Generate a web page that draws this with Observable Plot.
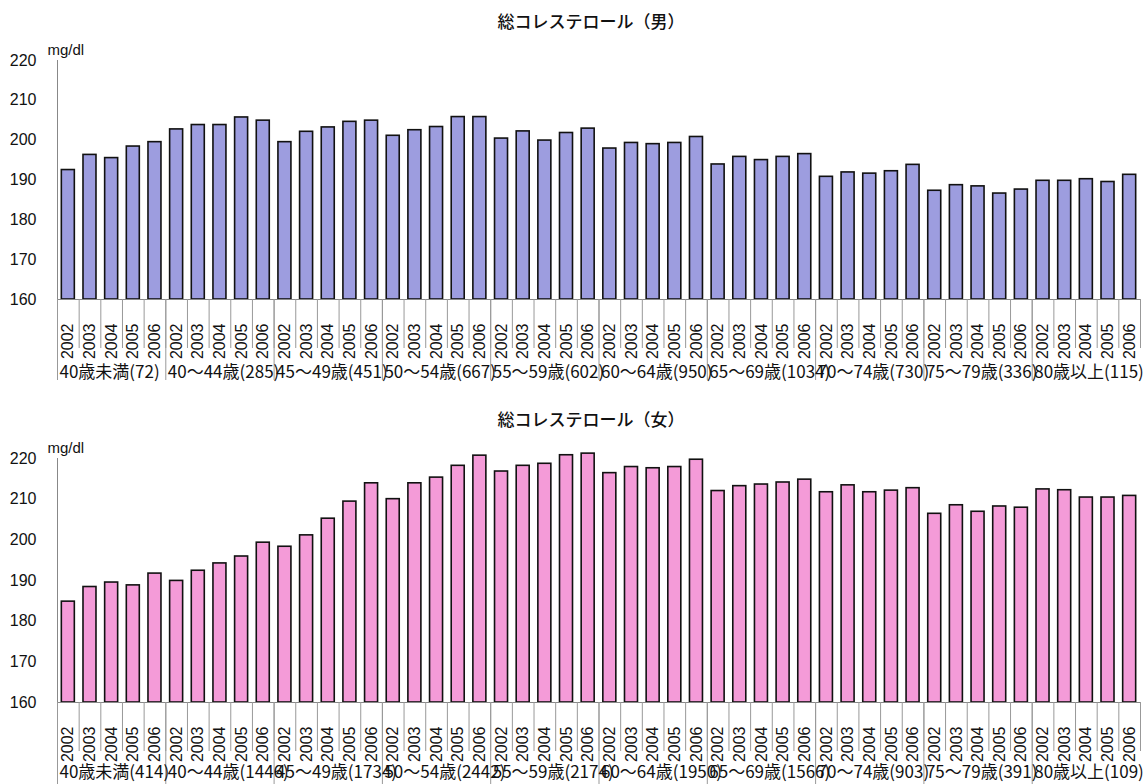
<!DOCTYPE html>
<html>
<head>
<meta charset="utf-8">
<script src="https://cdn.jsdelivr.net/npm/d3@7"></script>
<script src="https://cdn.jsdelivr.net/npm/@observablehq/plot@0.6"></script>
<style>
  body { margin: 0; background: #fff; font-family: "Noto Sans CJK JP", sans-serif; }
  #wrap { position: relative; width: 1147px; height: 784px; overflow: hidden; }
  .title { position: absolute; left: 0; width: 1182px; text-align: center; font-size: 17px; font-weight: 500; color: #111; line-height: 24px; }
  .chart { position: absolute; left: 0; }
</style>
</head>
<body>
<div id="wrap">
  <div class="chart" id="male" style="top:0"></div>
  <div class="title" style="top:9px">総コレステロール（男）</div>
  <div class="chart" id="female" style="top:400px"></div>
  <div class="title" style="top:407px">総コレステロール（女）</div>
</div>
<script>
// total cholesterol (mg/dl) by age group and survey year
const years = ["2002", "2003", "2004", "2005", "2006"];
const ageGroupsMale = ["40歳未満(72)", "40～44歳(285)", "45～49歳(451)", "50～54歳(667)", "55～59歳(602)",
  "60～64歳(950)", "65～69歳(1034)", "70～74歳(730)", "75～79歳(336)", "80歳以上(115)"];
const ageGroupsFemale = ["40歳未満(414)", "40～44歳(1446)", "45～49歳(1734)", "50～54歳(2442)", "55～59歳(2174)",
  "60～64歳(1950)", "65～69歳(1566)", "70～74歳(903)", "75～79歳(391)", "80歳以上(109)"];
const valuesMale = [
  192.5, 196.3, 195.5, 198.4, 199.5,
  202.7, 203.8, 203.8, 205.7, 204.9,
  199.5, 202.1, 203.2, 204.6, 204.9,
  201.1, 202.5, 203.3, 205.8, 205.8,
  200.4, 202.2, 199.9, 201.8, 202.9,
  197.9, 199.3, 199.0, 199.3, 200.8,
  193.9, 195.8, 195.0, 195.8, 196.5,
  190.8, 191.9, 191.6, 192.2, 193.8,
  187.3, 188.7, 188.4, 186.6, 187.6,
  189.8, 189.8, 190.2, 189.5, 191.3
];
const valuesFemale = [
  184.8, 188.4, 189.5, 188.8, 191.7,
  189.9, 192.4, 194.2, 195.9, 199.3,
  198.3, 201.1, 205.2, 209.4, 213.9,
  210.0, 213.9, 215.3, 218.2, 220.7,
  216.8, 218.2, 218.7, 220.8, 221.2,
  216.4, 217.9, 217.6, 217.9, 219.7,
  212.0, 213.2, 213.6, 214.1, 214.8,
  211.7, 213.4, 211.7, 212.1, 212.7,
  206.4, 208.5, 206.9, 208.2, 207.9,
  212.4, 212.2, 210.4, 210.4, 210.8
];
const yTicks = [160, 170, 180, 190, 200, 210, 220];
const unit = "mg/dl";

function drawChart(id, groups, values, fill, size) {
  const rows = [];
  groups.forEach((g, gi) => years.forEach((yr, yi) =>
    rows.push({ key: gi + "|" + yr, group: g, year: yr, value: values[gi * years.length + yi], first: yi === 0 })));
  const keys = rows.map((d) => d.key);
  const W = 1147, ML = 57, MR = 7;
  const step = (W - ML - MR) / keys.length;
  const firsts = rows.filter((d) => d.first);

  const plot = Plot.plot({
    width: W,
    height: size.height,
    marginLeft: ML,
    marginRight: MR,
    marginTop: size.top,
    marginBottom: size.bottom,
    style: { fontFamily: "'Liberation Sans', Arial, sans-serif", background: "transparent", color: "#111", overflow: "visible" },
    x: { type: "band", domain: keys, paddingInner: 0.4, paddingOuter: 0.2, axis: null },
    y: { domain: [160, 220], axis: null },
    marks: [
      Plot.axisY(yTicks, { tickSize: 0, tickPadding: 21, fontSize: 16, fill: "#111", label: null }),
      Plot.frame({ anchor: "left", stroke: "#888" }),
      Plot.barY(rows, { x: "key", y1: 160, y2: "value", fill, stroke: "#111", strokeWidth: 1.6 }),
      Plot.ruleY([160], { stroke: "#888" }),
      // separators between years and between age groups
      Plot.axisX(keys, { tickSize: 49, dx: -step / 2, tickFormat: () => "", stroke: "#999", label: null }),
      Plot.axisX([keys[keys.length - 1]], { tickSize: 49, dx: step / 2, tickFormat: () => "", stroke: "#999", label: null }),
      Plot.axisX(firsts.map((d) => d.key), { tickSize: size.groupTick, dx: -step / 2, tickFormat: () => "", stroke: "#999", label: null }),
      Plot.axisX(keys, {
        tickSize: 0, tickPadding: size.yearPad, tickRotate: -90, fontSize: 16, fill: "#111",
        tickFormat: (k) => k.split("|")[1], label: null
      }),
      Plot.text(firsts, {
        x: "key", text: "group", frameAnchor: "bottom", dx: -step / 2 + 2, dy: size.groupDy,
        textAnchor: "start", fontSize: 17, fontFamily: "Noto Sans CJK JP", fill: "#111"
      }),
      Plot.text([unit], { frameAnchor: "top-left", dx: -10, dy: -16, textAnchor: "start", fontSize: 15, fill: "#111" })
    ]
  });
  document.getElementById(id).appendChild(plot);
}

drawChart("male", ageGroupsMale, valuesMale, "#9d9ddf",
  { height: 400, top: 60, bottom: 101, yearPad: 24, groupDy: 78, groupTick: 81 });
drawChart("female", ageGroupsFemale, valuesFemale, "#f49bd8",
  { height: 384, top: 58, bottom: 82, yearPad: 24, groupDy: 75, groupTick: 84 });
</script>
</body>
</html>
